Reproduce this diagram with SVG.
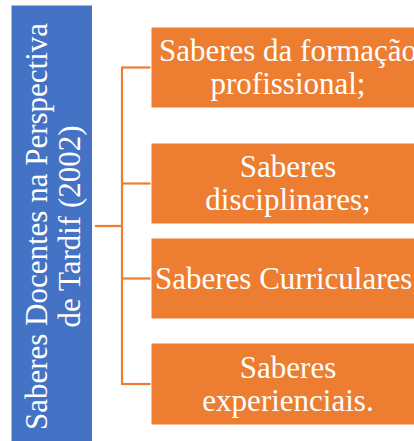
<svg xmlns="http://www.w3.org/2000/svg" width="414" height="441" viewBox="0 0 414 441">
  <style>
    .box { fill: #ED7D31; stroke: #ffffff; stroke-width: 1; }
    .main { fill: #4472C4; stroke: #ffffff; stroke-width: 1; }
    .lbl { font-family: "Liberation Serif", "Times New Roman", serif; font-size: 31px; fill: #ffffff; text-anchor: middle; }
    .conn { stroke: #ED7D31; stroke-width: 2.2; fill: none; }
  </style>
  <rect width="414" height="441" fill="#ffffff"/>
  <g id="connectors">
    <line class="conn" x1="95" y1="226" x2="122" y2="226"/>
    <line class="conn" x1="122" y1="67.5" x2="122" y2="384"/>
    <line class="conn" x1="121" y1="67.5" x2="151" y2="67.5"/>
    <line class="conn" x1="121" y1="183.5" x2="151" y2="183.5"/>
    <line class="conn" x1="121" y1="278.5" x2="151" y2="278.5"/>
    <line class="conn" x1="121" y1="384" x2="151" y2="384"/>
  </g>
  <g id="node-main">
    <rect class="main" x="11" y="5" width="81.5" height="443"/>
    <text class="lbl" transform="translate(47,226.5) rotate(-90)">Saberes Docentes na Perspectiva</text>
    <text class="lbl" transform="translate(80,226.5) rotate(-90)">de Tardif (2002)</text>
  </g>
  <g id="node-1">
    <rect class="box" x="151" y="27" width="274" height="81"/>
    <text class="lbl" x="288" y="61">Saberes da formação</text>
    <text class="lbl" x="288" y="94">profissional;</text>
  </g>
  <g id="node-2">
    <rect class="box" x="151" y="143" width="274" height="81"/>
    <text class="lbl" x="288" y="177">Saberes</text>
    <text class="lbl" x="288" y="210">disciplinares;</text>
  </g>
  <g id="node-3">
    <rect class="box" x="151" y="238" width="274" height="81"/>
    <text class="lbl" x="288" y="289">Saberes Curriculares;</text>
  </g>
  <g id="node-4">
    <rect class="box" x="151" y="343" width="274" height="82"/>
    <text class="lbl" x="288" y="377.5">Saberes</text>
    <text class="lbl" x="288" y="410.5">experienciais.</text>
  </g>
</svg>
